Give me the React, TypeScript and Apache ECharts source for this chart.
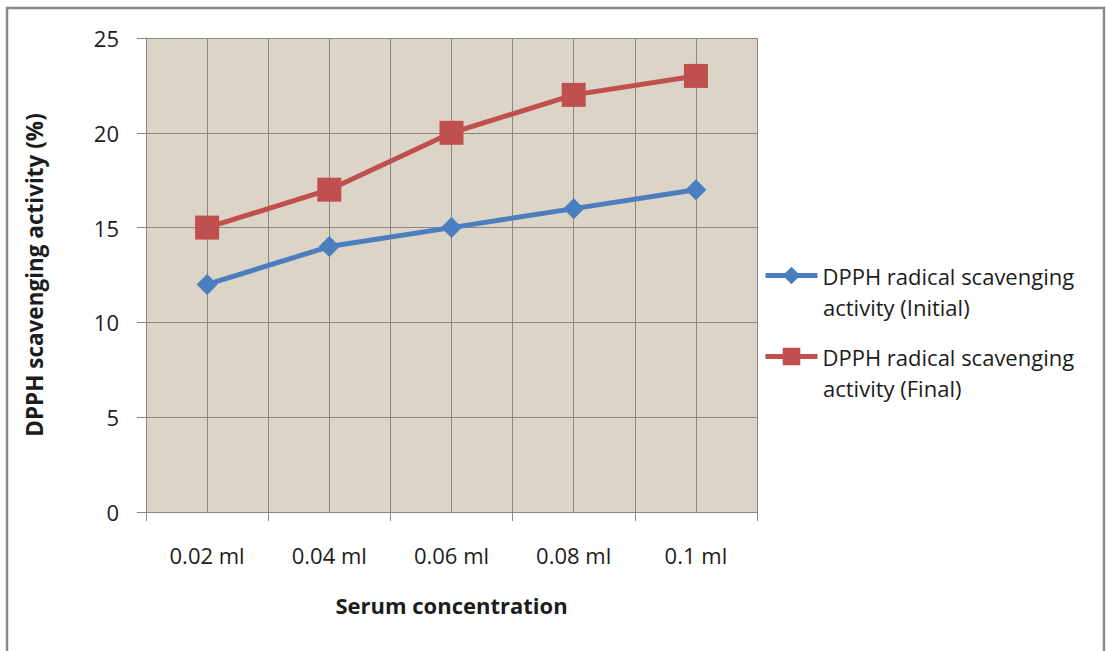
import React, { useEffect, useRef } from "react";
import * as echarts from "echarts";

const categories = ["0.02 ml", "0.04 ml", "0.06 ml", "0.08 ml", "0.1 ml"];
const initialActivity = [12, 14, 15, 16, 17];
const finalActivity = [15, 17, 20, 22, 23];
const seriesNames = [
  "DPPH radical scavenging\nactivity (Initial)",
  "DPPH radical scavenging\nactivity (Final)",
];
// half-category gridlines: boundaries plus category centres
const halfSteps = ["", "", "", "", "", "", "", "", "", "", ""];

const FONT = "'Open Sans', 'Noto Sans', sans-serif";
const TEXT = "#1c1c1c";
const GRID_LINE = "#8c8680";

const LEGEND_LEFT = 763;
const LEGEND_TEXT_LEFT = 823;
const LEGEND_TOP = 260;
const LEGEND_ICON_W = 52;
const LEGEND_LINE_H = 31;
const LEGEND_ITEM_STEP = 81;
const LEGEND_FONT_SIZE = 22;

export default function App() {
  const ref = useRef<HTMLDivElement>(null);

  useEffect(() => {
    if (!ref.current) return;
    const chart = echarts.init(ref.current, undefined, { renderer: "svg" });

    // the legend shows each name's first line; its continuation sits below it
    const continuationLines = seriesNames.map((name, i) => ({
      type: "text",
      left: LEGEND_TEXT_LEFT,
      top: LEGEND_TOP + LEGEND_LINE_H + i * LEGEND_ITEM_STEP,
      silent: true,
      style: {
        text: name.split("\n")[1],
        fontFamily: FONT,
        fontSize: LEGEND_FONT_SIZE,
        lineHeight: LEGEND_LINE_H,
        fill: TEXT,
      },
    }));

    chart.setOption({
      animation: false,
      backgroundColor: "#ffffff",
      textStyle: { fontFamily: FONT },
      graphic: [
        {
          type: "rect",
          shape: { x: 7, y: 8, width: 1097, height: 700 },
          style: { fill: "none", stroke: "#8a8a8a", lineWidth: 2.5 },
          silent: true,
          z: 100,
        },
        ...continuationLines,
      ],
      grid: {
        left: 146,
        top: 38,
        width: 611,
        height: 474,
        show: true,
        backgroundColor: "#dcd4c7",
        borderWidth: 0,
      },
      legend: {
        orient: "vertical",
        left: LEGEND_LEFT,
        top: LEGEND_TOP,
        padding: 0,
        itemWidth: LEGEND_ICON_W,
        itemHeight: 22,
        itemGap: LEGEND_ITEM_STEP - LEGEND_LINE_H,
        lineStyle: { width: 5 },
        data: seriesNames,
        formatter: (name: string) => name.split("\n")[0],
        textStyle: {
          fontFamily: FONT,
          fontSize: LEGEND_FONT_SIZE,
          color: TEXT,
          lineHeight: LEGEND_LINE_H,
        },
      },
      xAxis: [
        {
          type: "category",
          data: categories,
          boundaryGap: true,
          name: "Serum concentration",
          nameLocation: "middle",
          nameGap: 82,
          nameTextStyle: { fontFamily: FONT, fontSize: 22, fontWeight: "bold", color: TEXT },
          axisLine: { show: true, lineStyle: { color: GRID_LINE, width: 1 } },
          axisTick: { show: true, length: 9, lineStyle: { color: GRID_LINE } },
          axisLabel: { fontFamily: FONT, fontSize: 22, color: TEXT, margin: 32 },
          splitLine: { show: false },
        },
        {
          type: "category",
          data: halfSteps,
          boundaryGap: false,
          position: "bottom",
          axisLine: { show: false },
          axisTick: { show: false },
          axisLabel: { show: false },
          splitLine: { show: true, interval: 0, lineStyle: { color: GRID_LINE, width: 1 } },
        },
      ],
      yAxis: {
        type: "value",
        min: 0,
        max: 25,
        interval: 5,
        name: "DPPH scavenging activity (%)",
        nameLocation: "middle",
        nameGap: 100,
        nameTextStyle: { fontFamily: FONT, fontSize: 22.5, fontWeight: "bold", color: TEXT },
        axisLine: { show: true, lineStyle: { color: GRID_LINE, width: 1 } },
        axisTick: { show: true, length: 9, lineStyle: { color: GRID_LINE } },
        axisLabel: { fontFamily: FONT, fontSize: 22, color: TEXT, margin: 27 },
        splitLine: { show: true, lineStyle: { color: GRID_LINE, width: 1 } },
      },
      series: [
        {
          name: seriesNames[0],
          type: "line",
          data: initialActivity,
          symbol: "diamond",
          symbolSize: 21,
          color: "#4a7ebf",
          lineStyle: { width: 5, color: "#4a7ebf" },
          itemStyle: { color: "#4a7ebf" },
          z: 3,
        },
        {
          name: seriesNames[1],
          type: "line",
          data: finalActivity,
          symbol: "rect",
          symbolSize: 24,
          color: "#c0504d",
          lineStyle: { width: 5, color: "#c0504d" },
          itemStyle: { color: "#c0504d" },
          z: 3,
        },
      ],
    });
    return () => chart.dispose();
  }, []);

  return (
    <div
      ref={ref}
      style={{ position: "absolute", left: 0, top: 0, width: 1106, height: 651 }}
    />
  );
}
